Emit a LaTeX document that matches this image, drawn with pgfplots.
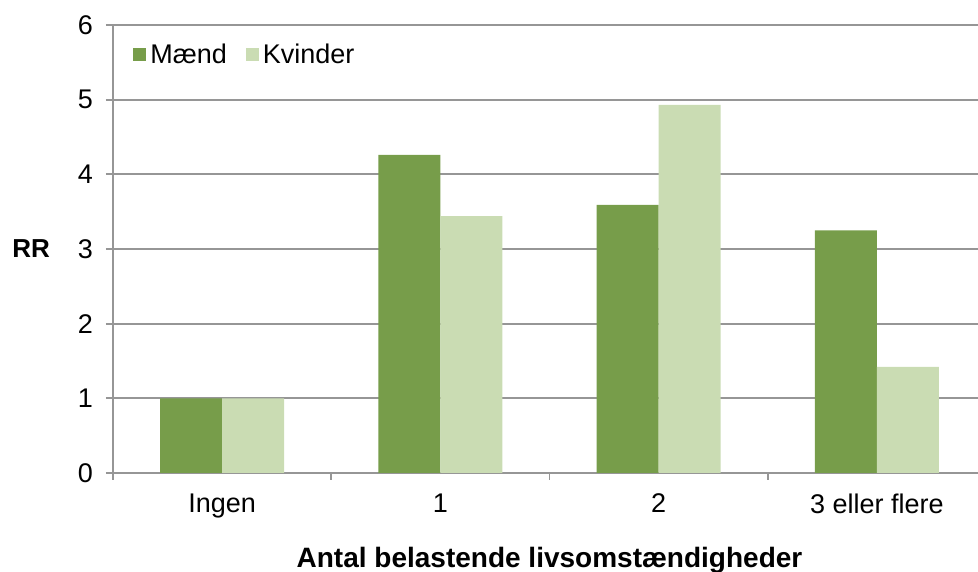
\documentclass[border=0pt]{standalone}
\usepackage{fontspec}
\setmainfont{Liberation Sans}
\usepackage{pgfplots}
\pgfplotsset{compat=1.18}
\definecolor{dk}{RGB}{119,157,74}
\definecolor{lt}{RGB}{202,220,179}
\definecolor{gridc}{RGB}{150,150,150}
\begin{document}
\begin{tikzpicture}
\begin{axis}[
  scale only axis, width=436.5pt, height=224pt,
  xmin=-0.5, xmax=3.5, ymin=0, ymax=6,
  ybar=0pt, bar width=31pt,
  axis x line=bottom, axis y line=left,
  axis line style={gridc, line width=0.9pt, -},
  ytick={0,1,2,3,4,5,6},
  ymajorgrids, major grid style={gridc, line width=0.9pt},
  tick style={gridc, line width=0.9pt},
  tick align=outside, major tick length=3.5pt,
  xtick={-0.5,0.5,1.5,2.5,3.5}, xticklabels={},
  extra x ticks={0,1,2,3},
  extra x tick labels={Ingen,1,2,3 eller flere},
  extra x tick style={major tick length=0pt, grid=none},
  /pgf/number format/assume math mode=true,
  ticklabel style={font=\fontsize{13.5}{15}\selectfont, black},
  xticklabel style={yshift=-7pt},
  yticklabel style={xshift=-3pt},
  xlabel={\textbf{Antal belastende livsomstændigheder}},
  every axis x label/.style={at={(axis description cs:0.5,-0.21)}, anchor=base, inner sep=0pt, font=\fontsize{14}{16}\selectfont},
  ylabel={\textbf{RR}},
  every axis y label/.style={at={(axis description cs:-0.1157,0.5)}, anchor=west, inner sep=0pt, font=\fontsize{13}{15}\selectfont},
  legend style={at={(axis description cs:0.016,0.977)}, anchor=north west, draw=none, fill=none,
    font=\fontsize{13.5}{15}\selectfont, legend columns=2,
    /tikz/every even column/.append style={column sep=7.5pt}},
  legend image code/.code={\fill[#1] (0.5pt,-3.25pt) rectangle (7pt,3.25pt);},
]
\addplot[fill=dk, draw=none] coordinates {(0,1.00) (1,4.26) (2,3.59) (3,3.25)};
\addplot[fill=lt, draw=none] coordinates {(0,1.00) (1,3.44) (2,4.93) (3,1.42)};
\legend{Mænd,Kvinder}
\end{axis}
\pgfresetboundingbox
\path ([xshift=-56.5pt,yshift=-49.5pt]current axis.south west) rectangle ([xshift=-4pt,yshift=12.5pt]current axis.north east);
\end{tikzpicture}
\end{document}
